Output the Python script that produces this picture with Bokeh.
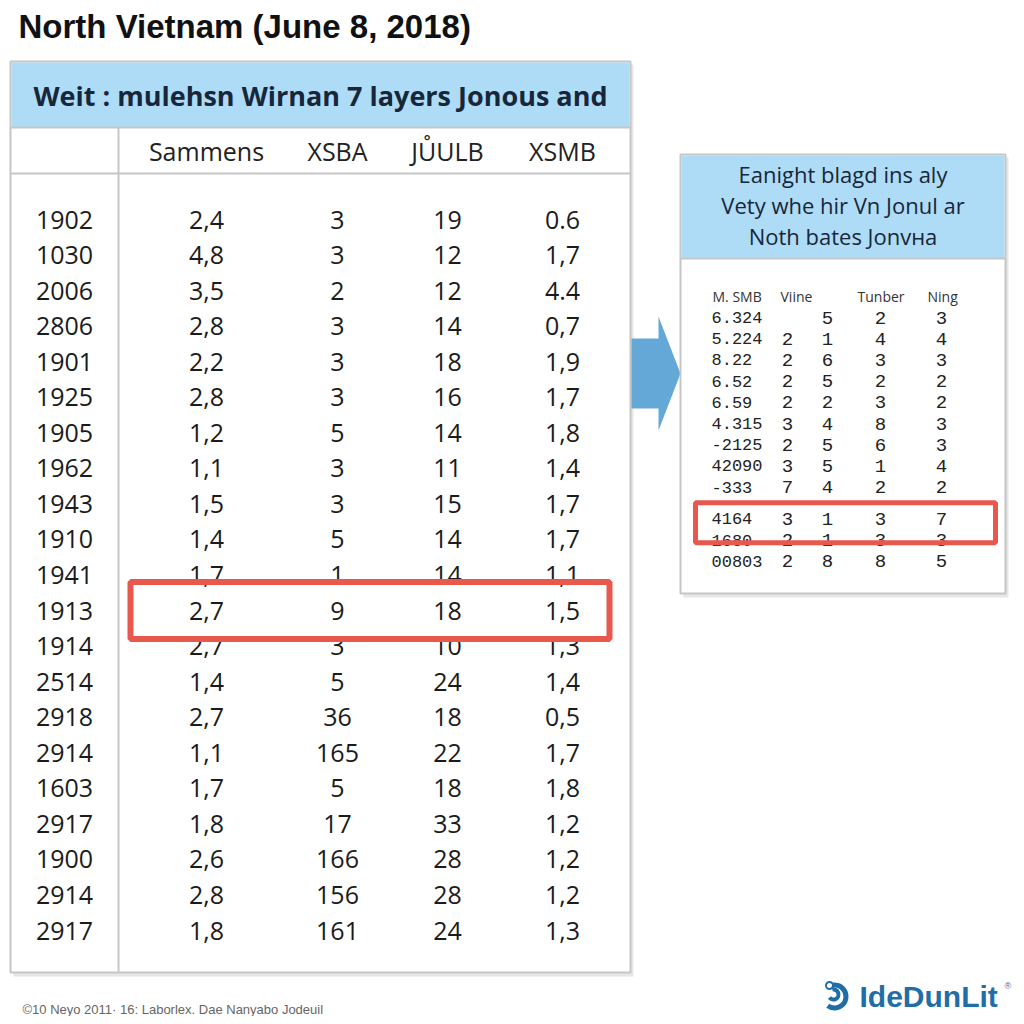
from bokeh.plotting import figure
from bokeh.models import Range1d
from bokeh.core.properties import value
from bokeh.embed import file_html
from bokeh.resources import INLINE

# ---------------- data ----------------
title = "North Vietnam (June 8, 2018)"
banner = "Weit : mulehsn Wirnan 7 layers Jonous and"
col_headers = ["Sammens", "XSBA", "JŮULB", "XSMB"]
years = ["1902", "1030", "2006", "2806", "1901", "1925", "1905", "1962", "1943", "1910", "1941",
         "1913", "1914", "2514", "2918", "2914", "1603", "2917", "1900", "2914", "2917"]
sammens = ["2,4", "4,8", "3,5", "2,8", "2,2", "2,8", "1,2", "1,1", "1,5", "1,4", "1,7",
           "2,7", "2,7", "1,4", "2,7", "1,1", "1,7", "1,8", "2,6", "2,8", "1,8"]
xsba = ["3", "3", "2", "3", "3", "3", "5", "3", "3", "5", "1",
        "9", "3", "5", "36", "165", "5", "17", "166", "156", "161"]
juulb = ["19", "12", "12", "14", "18", "16", "14", "11", "15", "14", "14",
         "18", "10", "24", "18", "22", "18", "33", "28", "28", "24"]
xsmb = ["0.6", "1,7", "4.4", "0,7", "1,9", "1,7", "1,8", "1,4", "1,7", "1,7", "1,1",
        "1,5", "1,3", "1,4", "0,5", "1,7", "1,8", "1,2", "1,2", "1,2", "1,3"]
highlight_row = 11

side_title = ["Eanight blagd ins aly", "Vety whe hir Vn Jonul ar", "Noth bates Jonvна"]
side_headers = ["M. SMB", "Viine", "Tunber", "Ning"]
side_code = ["6.324", "5.224", "8.22", "6.52", "6.59", "4.315", "-2125", "42090", "-333", "4164", "1680", "00803"]
side_a = ["", "2", "2", "2", "2", "3", "2", "3", "7", "3", "2", "2"]
side_b = ["5", "1", "6", "5", "2", "4", "5", "5", "4", "1", "1", "8"]
side_c = ["2", "4", "3", "2", "3", "8", "6", "1", "2", "3", "3", "8"]
side_d = ["3", "4", "3", "2", "2", "3", "3", "4", "2", "7", "3", "5"]
side_highlight = 9

footer = "©10 Neyo 2011· 16: Laborlex. Dae Nanyabo Jodeuil"
logo = "IdeDunLit"

# ---------------- style / layout ----------------
W = H = 1016
INK = "#1b1b1b"
NAVY = "#18263a"
BLUE_BAND = "#aedcf6"
BORDER = "#c6c6c6"
RED = "#e8584d"
ARROW = "#64a8d7"
LOGO = "#1f6ea8"
FONT = "Open Sans"

p = figure(width=W, height=H, x_range=Range1d(0, W), y_range=Range1d(H, 0),
           output_backend="svg", toolbar_location=None, min_border=0,
           x_axis_type=None, y_axis_type=None)
p.grid.visible = False
p.outline_line_color = None
p.background_fill_color = "white"
p.border_fill_color = "white"


def txt(x, y, texts, size, color=INK, font=FONT, style="normal", align="center", baseline="middle"):
    p.text(x=x, y=y, text=texts, text_font=value(font), text_font_size=f"{size}px",
           text_color=color, text_font_style=style, text_align=align, text_baseline=baseline)


def box(l, r, t, b, fill=None, line=None, lw=1, alpha=1.0):
    p.quad(left=[l], right=[r], top=[t], bottom=[b],
           fill_color=fill if fill else None, fill_alpha=alpha if fill else 0,
           line_color=line if line else None, line_width=lw)


# title
txt([18], [26], [title], 33, color="#111111", font="Liberation Sans", style="bold", align="left")

# ---------- main table ----------
T_L, T_R, T_T, T_B = 10, 630, 61, 972
BAND_B, HEAD_B, DIV_X = 127, 173, 118
ROW0, STEP = 219, 35.55
COL_X = [64, 206, 337, 447, 562]

box(T_L + 3, T_R + 3, T_T + 3, T_B + 4, fill="#dcdcdc", alpha=0.7)
box(T_L, T_R, T_T, T_B, fill="white", line=BORDER, lw=2)
box(T_L + 1, T_R - 1, T_T + 1, BAND_B, fill=BLUE_BAND)
p.segment(x0=[T_L, T_L, DIV_X], y0=[BAND_B, HEAD_B, BAND_B], x1=[T_R, T_R, DIV_X], y1=[BAND_B, HEAD_B, T_B],
          line_color=BORDER, line_width=2)
txt([(T_L + T_R) / 2], [(T_T + BAND_B) / 2 + 1], [banner], 27, color=NAVY, style="bold")
txt(COL_X[1:], [(BAND_B + HEAD_B) / 2] * 4, col_headers, 25, color="#222222")

row_y = [ROW0 + i * STEP for i in range(len(years))]
for cx, col in zip(COL_X, [years, sammens, xsba, juulb, xsmb]):
    txt([cx] * len(col), row_y, col, 25)

hy = row_y[highlight_row]
box(130, 609, hy - 0.8 * STEP, hy + 0.8 * STEP, line=RED, lw=6)

# ---------- arrow ----------
AX0, AHB, ATIP, ACY, SH, HH = 631, 658, 680, 373, 35, 57
p.patch(x=[AX0, AHB, AHB, ATIP, AHB, AHB, AX0],
        y=[ACY - SH, ACY - SH, ACY - HH, ACY, ACY + HH, ACY + SH, ACY + SH],
        fill_color=ARROW, line_color=None)

# ---------- side panel ----------
S_L, S_R, S_T, S_B, S_BAND = 680, 1005, 154, 593, 258
box(S_L + 3, S_R + 3, S_T + 3, S_B + 4, fill="#dcdcdc", alpha=0.7)
box(S_L, S_R, S_T, S_B, fill="white", line=BORDER, lw=2)
box(S_L + 1, S_R - 1, S_T + 1, S_BAND, fill=BLUE_BAND)
p.segment(x0=[S_L], y0=[S_BAND], x1=[S_R], y1=[S_BAND], line_color=BORDER, line_width=2)
txt([(S_L + S_R) / 2] * 3, [173 + 31 * i for i in range(3)], side_title, 22, color=NAVY)

txt([712, 780, 857, 927], [296] * 4, side_headers, 14, color="#333333", align="left")
S_ROW0, S_STEP, S_GAP = 317, 21.2, 10.5
s_y = [S_ROW0 + i * S_STEP + (S_GAP if i >= side_highlight else 0) for i in range(len(side_code))]
MONO = "Liberation Mono"
txt([711] * len(side_code), s_y, side_code, 17, font=MONO, align="left", color="#222222")
for cx, col in zip([787, 827, 880, 941], [side_a, side_b, side_c, side_d]):
    txt([cx] * len(col), s_y, col, 19, font=MONO, color="#222222")
sy = s_y[side_highlight]
box(695, 995, sy - 16, sy + 24, line=RED, lw=5)

# ---------- footer & logo ----------
txt([22], [1001], [footer], 13, color="#666666", font="Liberation Sans", align="left", baseline="top")

LX, LY = 834, 996
p.annular_wedge(x=[LX], y=[LY], inner_radius=[9], outer_radius=[14], start_angle=[-2.2], end_angle=[2.0],
                fill_color=LOGO, line_color=None)
p.annular_wedge(x=[LX - 1], y=[LY - 2], inner_radius=[3], outer_radius=[7], start_angle=[-2.5], end_angle=[1.8],
                fill_color=LOGO, line_color=None)
p.scatter(x=[LX - 5], y=[LY - 11], size=7, marker="circle", fill_color="white", line_color=LOGO, line_width=2)
txt([859], [996], [logo], 30, color=LOGO, font="Liberation Sans", style="bold", align="left")
txt([1004], [985], ["®"], 9, color=LOGO, font="Liberation Sans", align="left")

open("out.html", "w").write(file_html(p, INLINE))
